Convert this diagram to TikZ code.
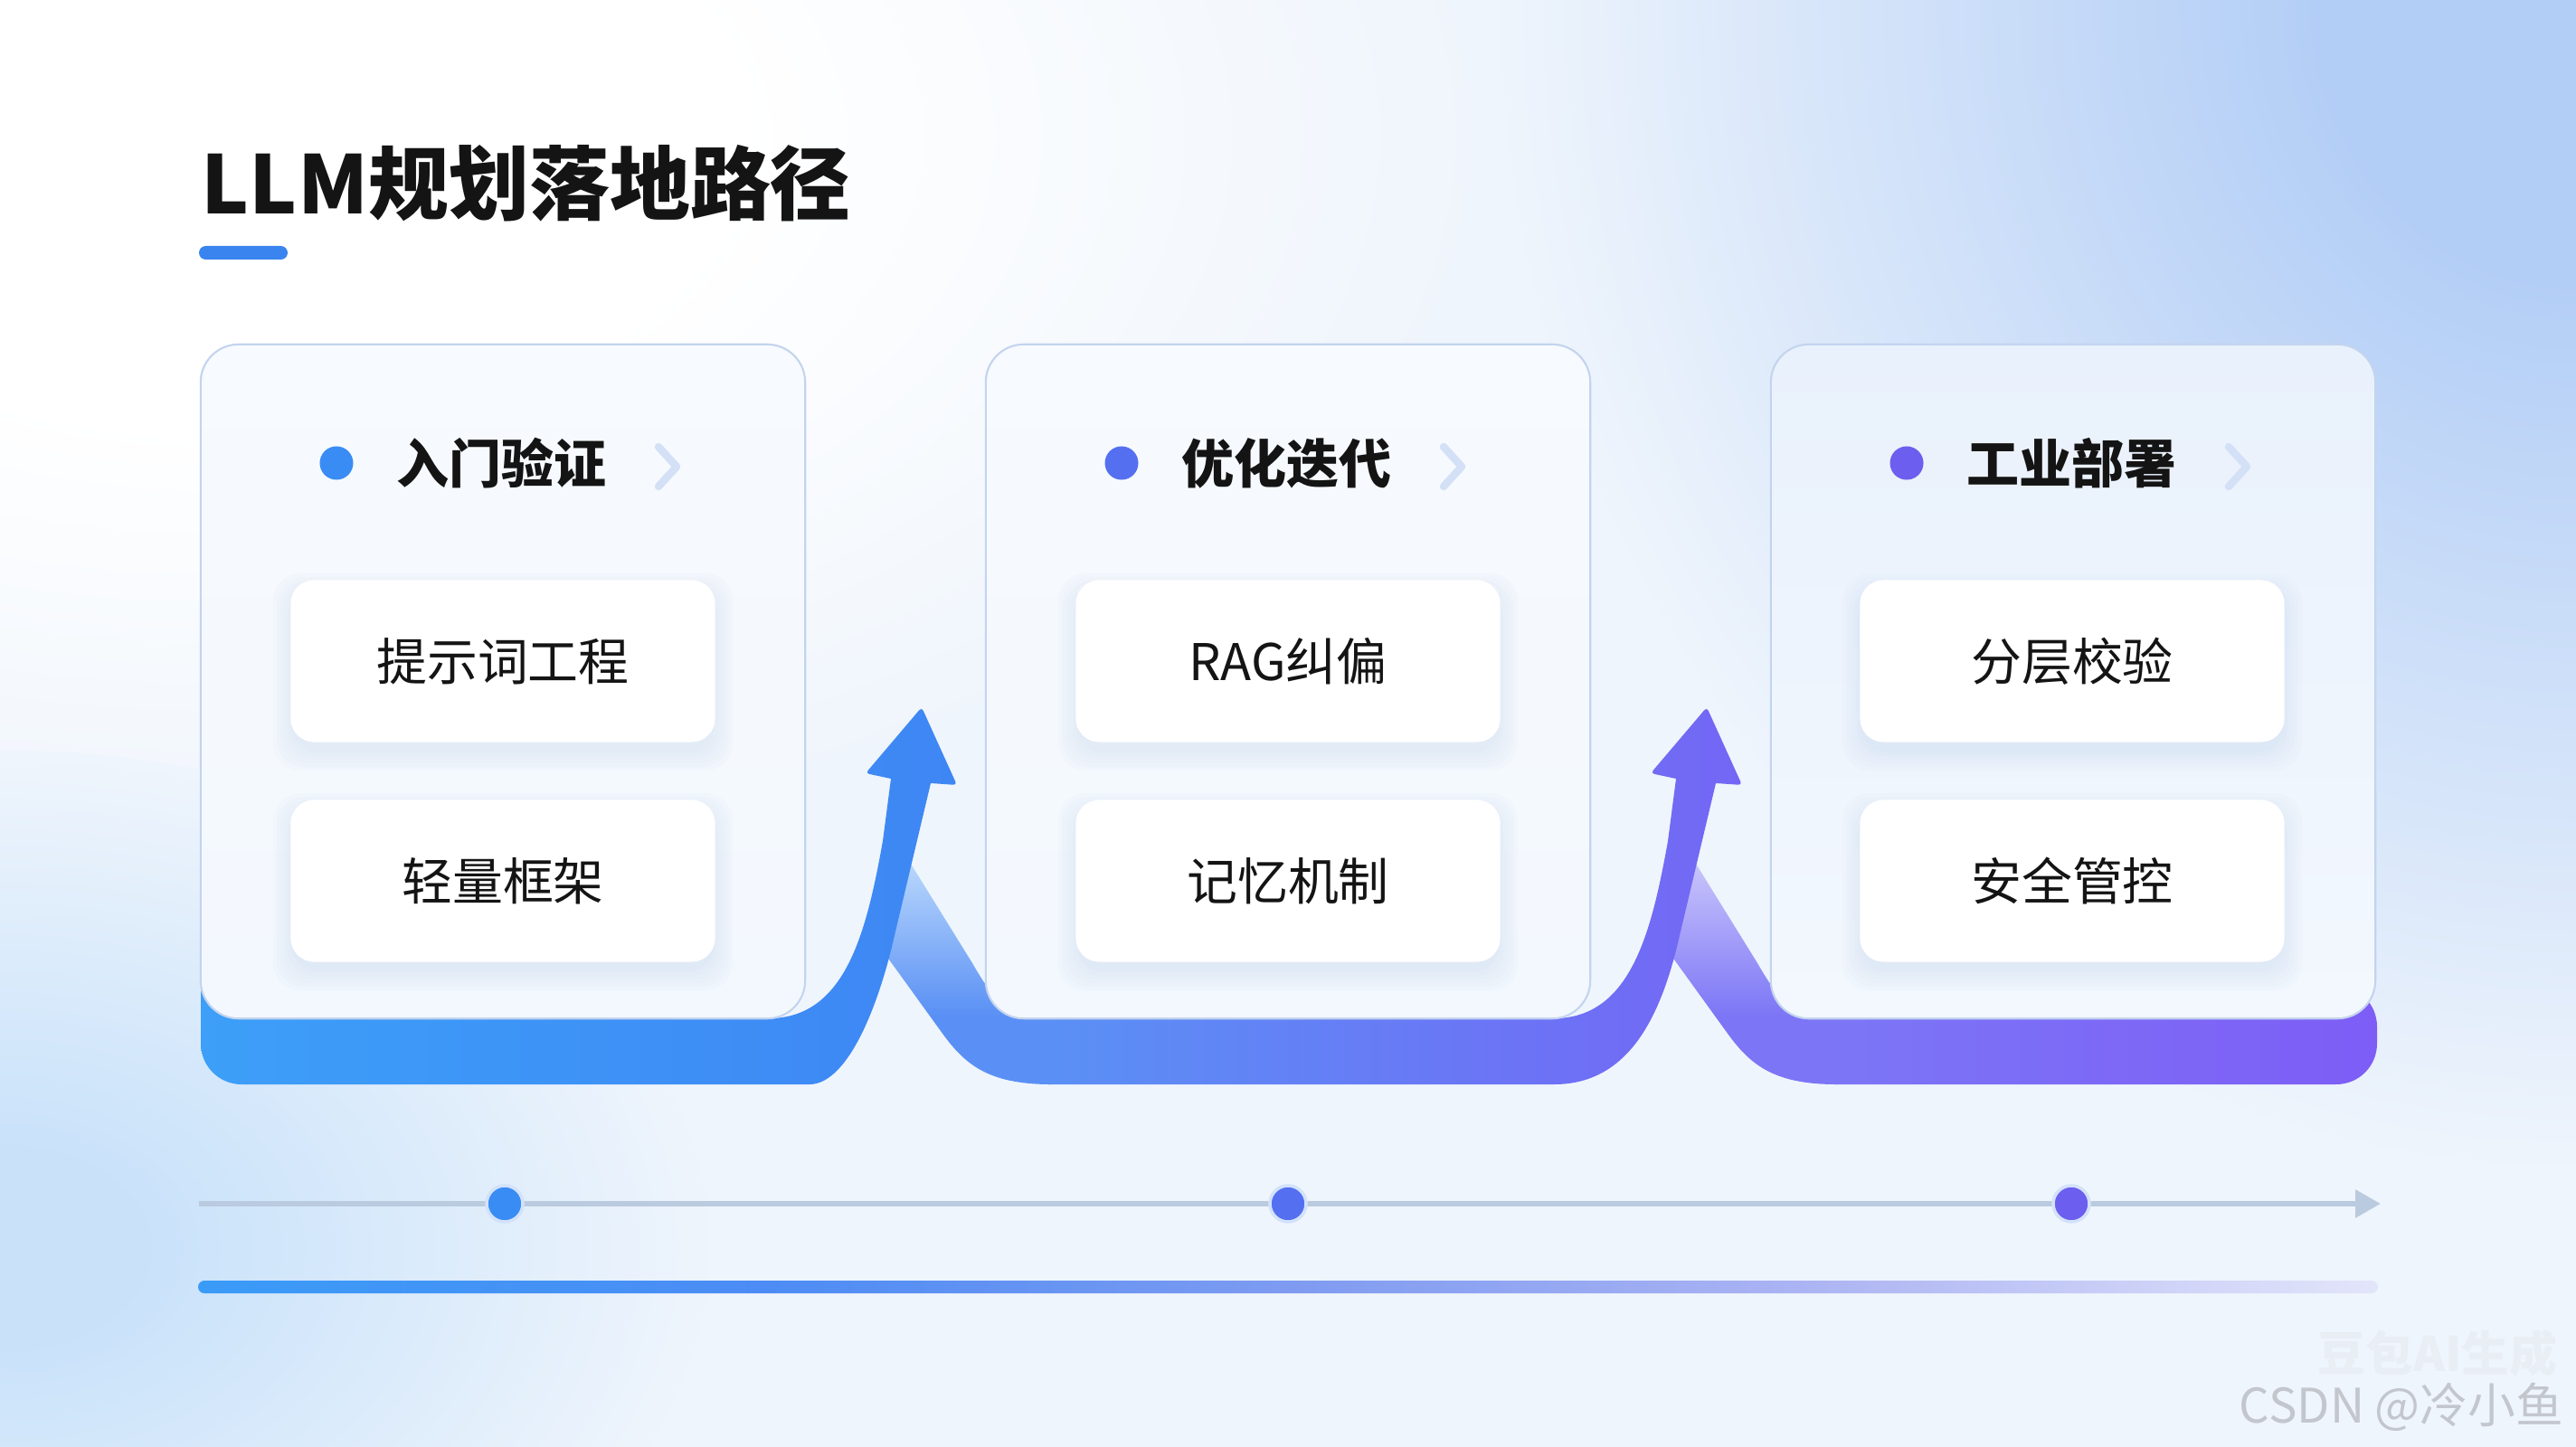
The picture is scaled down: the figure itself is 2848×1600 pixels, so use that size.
\documentclass[tikz,border=0pt]{standalone}
\usepackage{fontspec}
\setmainfont{Noto Sans CJK SC}
\usetikzlibrary{arrows.meta}
\definecolor{bgbase}{HTML}{EFF5FC}
\definecolor{glowA}{HTML}{B3CEF6}
\definecolor{glowB}{HTML}{C9E2FA}
\definecolor{glowW}{HTML}{FFFFFF}
\definecolor{ink}{HTML}{141414}
\definecolor{cardline}{HTML}{C3D4EE}
\definecolor{cardT}{HTML}{F7FAFE}
\definecolor{cardTc}{HTML}{E9F1FC}
\definecolor{cardB}{HTML}{F3F8FE}
\definecolor{chevc}{HTML}{D3E0F6}
\definecolor{shadowc}{HTML}{B8CCE8}
\definecolor{titlebar}{HTML}{3A84F0}
\definecolor{tlinec}{HTML}{BACADF}
\definecolor{ringc}{HTML}{D3E2FA}
\definecolor{dotA}{HTML}{3A8CF5}
\definecolor{dotB}{HTML}{5470F1}
\definecolor{dotC}{HTML}{6C5EEE}
\definecolor{bandA1}{HTML}{3D9FF8}
\definecolor{bandA2}{HTML}{3E86F4}
\definecolor{bandB1}{HTML}{5A90F5}
\definecolor{bandB2}{HTML}{7466F5}
\definecolor{bandC1}{HTML}{7C76F6}
\definecolor{bandC2}{HTML}{7D5DF6}
\definecolor{lightA1}{HTML}{BEDBFC}
\definecolor{lightA2}{HTML}{5A90F5}
\definecolor{lightB1}{HTML}{CDC9FB}
\definecolor{lightB2}{HTML}{7C76F6}
\definecolor{bar1}{HTML}{3A9BF7}
\definecolor{bar2}{HTML}{4C8CF4}
\definecolor{bar3}{HTML}{7E9BF1}
\definecolor{bar4}{HTML}{ACB4F3}
\definecolor{bar5}{HTML}{E3E5FA}
\definecolor{wmark}{HTML}{C3C7CD}
\definecolor{wmarkb}{HTML}{E9EEF4}
\pgfdeclareradialshading{glowTR}{\pgfpointorigin}{color(0bp)=(glowA); color(6bp)=(glowA); color(25bp)=(bgbase); color(50bp)=(bgbase)}
\pgfdeclareradialshading{glowBL}{\pgfpointorigin}{color(0bp)=(glowB); color(5bp)=(glowB); color(25bp)=(bgbase); color(50bp)=(bgbase)}
\pgfdeclareradialshading{glowTL}{\pgfpointorigin}{color(0bp)=(glowW); color(10bp)=(glowW); color(25bp)=(bgbase); color(50bp)=(bgbase)}
\pgfdeclarehorizontalshading{barshade}{100bp}{color(0bp)=(bar1); color(25bp)=(bar1); color(38bp)=(bar2); color(50bp)=(bar3); color(62bp)=(bar4); color(75bp)=(bar5); color(100bp)=(bar5)}
\pgfdeclareverticalshading{lightAshade}{100bp}{color(0bp)=(lightA2); color(40bp)=(lightA2); color(75bp)=(lightA1); color(100bp)=(lightA1)}
\pgfdeclareverticalshading{lightBshade}{100bp}{color(0bp)=(lightB2); color(40bp)=(lightB2); color(75bp)=(lightB1); color(100bp)=(lightB1)}
\newcommand\mytitlefont{\fontsize{25.3pt}{29pt}\selectfont\bfseries}
\newcommand\myheadfont{\fontsize{16.5pt}{20pt}\selectfont\bfseries}
\newcommand\mysubfont{\fontsize{15.9pt}{19pt}\selectfont}
\newcommand\mywmfont{\fontsize{15pt}{18pt}\selectfont}
\newcommand\boxshadow[2]{%
  \foreach \k in {0,...,5}{%
    \fill[shadowc, opacity=0.05, rounded corners=0.3cm]
      ({#1-234-4*\k},{#2-89-4*\k+12}) rectangle ({#1+234+4*\k},{#2+89+4*\k+12});}}
\tikzset{
  card/.style={draw=cardline, line width=0.6pt, rounded corners=0.42cm,
    minimum width=6.68cm, minimum height=7.45cm, inner sep=0pt, bottom color=cardB},
  subbox/.style={fill=white, rounded corners=0.26cm, minimum width=4.69cm,
    minimum height=1.79cm, inner sep=0pt, font=\mysubfont, text=ink},
  hdot/.style={circle, minimum size=0.37cm, inner sep=0pt},
  htext/.style={anchor=west, font=\myheadfont, text=ink, inner sep=0pt},
  chev/.style={draw=chevc, line width=2.4pt, line cap=round, line join=round},
  tline/.style={draw=tlinec, line width=1.7pt, -{Triangle[length=0.28cm,width=0.3cm]}},
  tdot/.style={circle, minimum size=0.4cm, inner sep=0pt, draw=ringc, line width=1pt},
}
\begin{document}
\begin{tikzpicture}[x=0.01cm,y=-0.01cm]
\useasboundingbox (0,0) rectangle (2848,1600);
% background
\fill[bgbase] (0,0) rectangle (2848,1600);
\begin{scope}
\clip (0,0) rectangle (2848,1600);
\shade[shading=glowTL] (250,150) ellipse (14cm and 8cm);
\shade[shading=glowBL] (0,1380) ellipse (8cm and 5.5cm);
\shade[shading=glowTR] (2848,0) ellipse (12cm and 13cm);
\end{scope}
% title
\node[anchor=west, font=\mytitlefont, text=ink, inner sep=0pt] (title) at (222,203) {LLM规划落地路径};
\fill[titlebar, rounded corners=0.075cm] (220,272) rectangle (318,287);
% band C (right horizontal)
\shade[left color=bandC1, right color=bandC2]
  (2028,1090) -- (2028,1199) {[rounded corners=0.45cm] -- (2628,1199) -- (2628,1090)} -- cycle;
% light band 2
\shade[shading=lightBshade]
  (1843,1050) -- (1868,945) -- (1878,960) -- (1943,1065)
  .. controls (1966,1105) and (1983,1126) .. (2030,1126) -- (2030,1199)
  .. controls (1958,1199) and (1933,1175) .. (1908,1140) -- cycle;
% band B with arrow 2
\shade[left color=bandB1, right color=bandB2]
  (1158,1090) -- (1158,1199) -- (1718,1199)
  .. controls (1803,1199) and (1838,1120) .. (1858,1030)
  -- (1897,866) {[rounded corners=0.04cm] -- (1926,868) -- (1887,782) -- (1825,855)} -- (1853,861)
  -- (1844,930) .. controls (1826,1030) and (1803,1126) .. (1718,1126)
  -- (1718,1090) -- cycle;
% light band 1
\shade[shading=lightAshade]
  (975,1050) -- (1000,945) -- (1010,960) -- (1075,1065)
  .. controls (1098,1105) and (1115,1126) .. (1162,1126) -- (1162,1199)
  .. controls (1090,1199) and (1065,1175) .. (1040,1140) -- cycle;
% band A with arrow 1
\shade[left color=bandA1, right color=bandA2]
  (222,1090) {[rounded corners=0.45cm] -- (222,1199) -- (850,1199)}
  .. controls (935,1199) and (970,1120) .. (990,1030)
  -- (1029,866) {[rounded corners=0.04cm] -- (1058,868) -- (1019,782) -- (957,855)} -- (985,861)
  -- (976,930) .. controls (958,1030) and (935,1126) .. (850,1126)
  -- (850,1090) -- cycle;
% cards
\node[card, top color=cardT] (card1) at (556,753.5) {};
\node[card, top color=cardT] (card2) at (1424,753.5) {};
\node[card, top color=cardTc] (card3) at (2292,753.5) {};
% headers
\node[hdot, fill=dotA] (d1) at (372,512) {};
\node[htext] (h1) at (438,512) {入门验证};
\draw[chev] (728,494) -- (748,516) -- (728,538);
\node[hdot, fill=dotB] (d2) at (1240,512) {};
\node[htext] (h2) at (1306,512) {优化迭代};
\draw[chev] (1596,494) -- (1616,516) -- (1596,538);
\node[hdot, fill=dotC] (d3) at (2108,512) {};
\node[htext] (h3) at (2174,512) {工业部署};
\draw[chev] (2464,494) -- (2484,516) -- (2464,538);
% sub boxes
\boxshadow{556}{731}
\boxshadow{556}{974}
\boxshadow{1424}{731}
\boxshadow{1424}{974}
\boxshadow{2291}{731}
\boxshadow{2291}{974}
\node[subbox] (b11) at (556,731) {提示词工程};
\node[subbox] (b12) at (556,974) {轻量框架};
\node[subbox] (b21) at (1424,731) {RAG纠偏};
\node[subbox] (b22) at (1424,974) {记忆机制};
\node[subbox] (b31) at (2291,731) {分层校验};
\node[subbox] (b32) at (2291,974) {安全管控};
% timeline
\coordinate (tls) at (220,1331);
\coordinate (tle) at (2632,1331);
\draw[tline] (tls) -- (tle);
\node[tdot, fill=dotA] (t1) at (558,1331) {};
\node[tdot, fill=dotB] (t2) at (1424,1331) {};
\node[tdot, fill=dotC] (t3) at (2290,1331) {};
% bottom bar
\shade[shading=barshade, rounded corners=0.07cm] (219,1416) rectangle (2629,1430);
% watermark
\node[font=\mywmfont\bfseries, text=wmarkb, inner sep=0pt] (wm2) at (2695,1496) {豆包AI生成};
\node[font=\mywmfont, text=wmark, inner sep=0pt] (wm1) at (2655,1556) {CSDN @冷小鱼};
\end{tikzpicture}
\end{document}
